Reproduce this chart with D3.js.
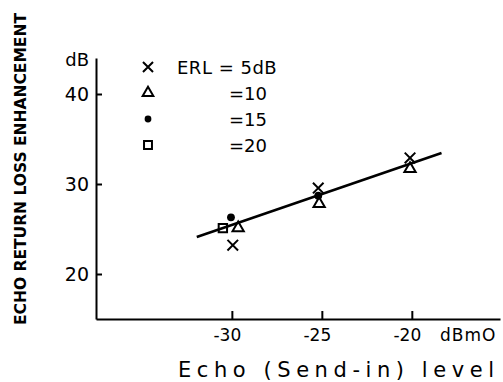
<!DOCTYPE html>
<html>
<head>
<meta charset="utf-8">
<script src="https://cdn.jsdelivr.net/npm/d3@7"></script>
<style>
  body{ margin:0; background:#fff; }
  text{ font-family:"DejaVu Sans", sans-serif; fill:#000; }
</style>
</head>
<body>
<svg id="graf" width="503" height="382"></svg>
<script>
var xTicks = [-30, -25, -20];
var yTicks = [20, 30, 40];
var legendText = ["ERL = 5dB", "=10", "=15", "=20"];

// echo level (dBm0) and enhancement (dB) for each ERL
var erl5Level  = [-29.95, -25.2, -20.1];
var erl5Value  = [23.2, 29.55, 32.9];
var erl10Level = [-29.65, -25.15, -20.1];
var erl10Value = [25.1, 27.8, 31.7];
var erl15Level = [-30.05, -25.2];
var erl15Value = [26.3, 28.7];
var erl20Level = [-30.5];
var erl20Value = [25.1];

// fitted line ends
var fitLevel = [-31.95, -18.35];
var fitValue = [24.1, 33.45];

function dibujar(){
  var svg = d3.select("#graf");
  var x = d3.scaleLinear().domain([-37.55, -15.1]).range([96, 500]);
  var y = d3.scaleLinear().domain([15, 44]).range([319, 58]);

  var gx = svg.append("g")
    .attr("transform", "translate(0,319)")
    .call(d3.axisBottom(x).tickValues(xTicks).tickSizeInner(-8).tickSizeOuter(0)
      .tickPadding(10).tickFormat(function(d){ return "-" + Math.abs(d); }));
  gx.selectAll("text").attr("font-size", 17).attr("font-family", null).attr("dx", -5);

  var gy = svg.append("g")
    .attr("transform", "translate(96,0)")
    .call(d3.axisLeft(y).tickValues(yTicks).tickSizeInner(-6).tickSizeOuter(0).tickPadding(7));
  gy.selectAll("text").attr("font-size", 19).attr("font-family", null);

  svg.selectAll(".domain, .tick line").attr("stroke", "#000").attr("stroke-width", 2);

  svg.append("text").text("dB")
    .attr("x", 89).attr("y", 59).attr("text-anchor", "end")
    .attr("dominant-baseline", "central").attr("font-size", 18);

  svg.append("text").text("dBmO")
    .attr("x", 440).attr("y", 341).attr("font-size", 17).attr("letter-spacing", 1);

  svg.append("text").text("Echo (Send-in) level")
    .attr("x", 178).attr("y", 377).attr("font-size", 21)
    .attr("textLength", 316).attr("lengthAdjust", "spacing");

  svg.append("text").text("ECHO RETURN LOSS ENHANCEMENT")
    .attr("transform", "translate(20,169) rotate(-90)")
    .attr("text-anchor", "middle").attr("dominant-baseline", "central")
    .attr("font-size", 16).attr("font-weight", "bold")
    .attr("textLength", 312).attr("lengthAdjust", "spacingAndGlyphs");

  // fitted line
  var linea = d3.line().x(function(d){ return x(d[0]); }).y(function(d){ return y(d[1]); });
  svg.append("path")
    .datum(d3.zip(fitLevel, fitValue))
    .attr("d", linea)
    .attr("fill", "none").attr("stroke", "#000").attr("stroke-width", 2.6);

  var tipos = [
    { type: d3.symbolX,        size: 75, fill: "none", pts: d3.zip(erl5Level, erl5Value) },
    { type: d3.symbolTriangle, size: 55, fill: "none", pts: d3.zip(erl10Level, erl10Value) },
    { type: d3.symbolCircle,   size: 48, fill: "#000", pts: d3.zip(erl15Level, erl15Value) },
    { type: d3.symbolSquare,   size: 70, fill: "none", pts: d3.zip(erl20Level, erl20Value) }
  ];

  for( var i = 0; i < tipos.length; i++ ){
    var t = tipos[i];
    var sym = d3.symbol().type(t.type).size(t.size);
    svg.selectAll(".m" + i)
      .data(t.pts)
      .enter().append("path")
      .attr("class", "m" + i)
      .attr("d", sym)
      .attr("transform", function(d){ return "translate(" + x(d[0]) + "," + y(d[1]) + ")"; })
      .attr("fill", t.fill)
      .attr("stroke", "#000")
      .attr("stroke-width", t.fill == "none" ? 2 : 0);

    // legend
    svg.append("path")
      .attr("d", d3.symbol().type(t.type).size(t.type == d3.symbolCircle ? 36 : t.size * 0.9))
      .attr("transform", "translate(148," + (67 + i * 26) + ")")
      .attr("fill", t.fill)
      .attr("stroke", "#000")
      .attr("stroke-width", t.fill == "none" ? 2 : 0);

    svg.append("text")
      .text(legendText[i])
      .attr("x", i == 0 ? 177 : 229)
      .attr("y", 67 + i * 26)
      .attr("dominant-baseline", "central")
      .attr("font-size", 18)
      .attr("letter-spacing", i == 0 ? 0.5 : 0);
  }
}

dibujar();
</script>
</body>
</html>
